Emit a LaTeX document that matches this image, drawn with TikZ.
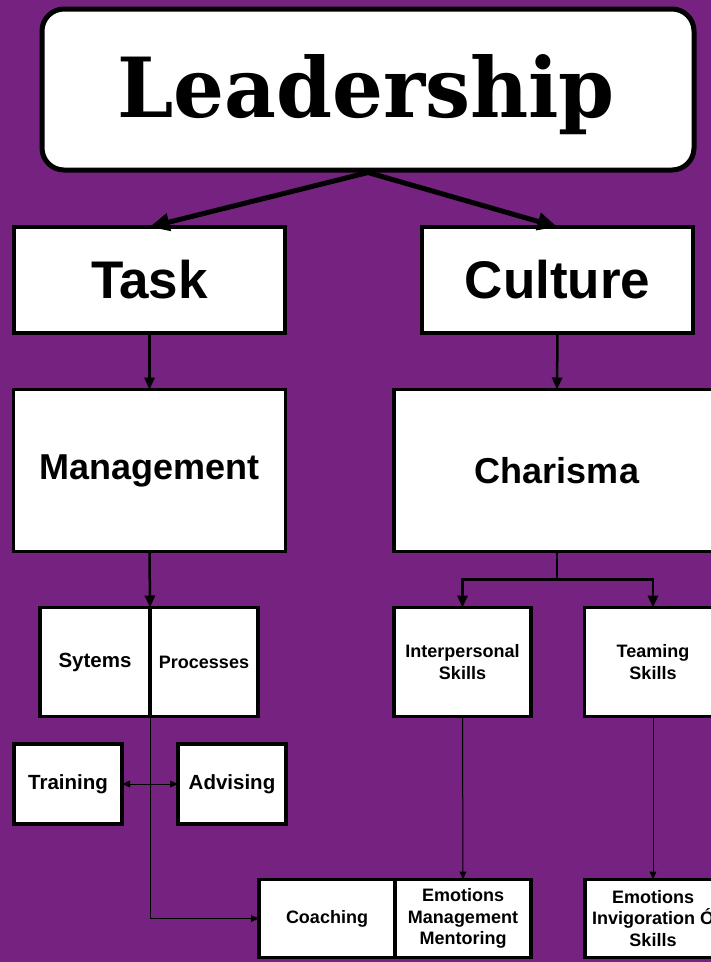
\documentclass[tikz,border=0pt]{standalone}
\usepackage{fontspec}
\setmainfont{Liberation Sans}
\newfontfamily\slabfont{DejaVu Serif}
\usepackage{graphicx}
\usetikzlibrary{arrows.meta,calc,positioning}
\definecolor{bgpurple}{RGB}{118,34,128}
\tikzset{
    box/.style args={#1/#2/#3}{draw=black, fill=white, line width=#1, inner sep=0pt, outer sep=0pt, align=center, font=\bfseries\fontsize{#2}{#3}\selectfont},
    conn/.style args={#1/#2}{draw=black, line width=#1, -{Triangle[length=#2, width=0.85*#2]}},
    biconn/.style args={#1/#2}{draw=black, line width=#1, {Triangle[length=#2, width=0.85*#2]}-{Triangle[length=#2, width=0.85*#2]}}
}

\begin{document}
\begin{tikzpicture}[x=1pt,y=-1pt]
\useasboundingbox[fill=bgpurple] (0,0) rectangle (711,962);
% top
\node[draw=black, fill=white, line width=5pt, rounded corners=22pt, minimum width=652pt, minimum height=161pt] (lead) at (368,89.5) {};
\node[anchor=base] (leadtxt) at (366,117) {\resizebox{498pt}{63pt}{\slabfont\bfseries Leadership}};
% second row
\node[box=4pt/53/60, minimum width=271pt, minimum height=106pt] (task) at (149.5,280) {Task};
\node[box=4pt/53/60, minimum width=271pt, minimum height=106pt] (culture) at (557.5,280) {Culture};
% third row
\node[box=3.5pt/36/42, minimum width=272pt, minimum height=162pt] (mgmt) at (149.5,470.5) {Management};
\node[box=3.5pt/36/42, minimum width=326pt, minimum height=162pt] (charisma) at (557,470.5) {Charisma};
% fourth row
\node[box=3.5pt/20.5/24, minimum width=110pt, minimum height=109pt] (sys) at (95,662) {Sytems};
\node[box=3.5pt/18/21.5, minimum width=108pt, minimum height=109pt, right=0pt of sys] (proc) {Processes};
\node[box=3.5pt/18/21.5, minimum width=137pt, minimum height=109pt] (interp) at (462.5,662) {Interpersonal\\Skills};
\node[box=3.5pt/18/21.5, minimum width=137pt, minimum height=109pt] (teaming) at (653,662) {Teaming\\Skills};
% fifth row
\node[box=3.5pt/20.5/24, minimum width=108pt, minimum height=80pt] (training) at (68,784) {Training};
\node[box=3.5pt/20.5/24, minimum width=108pt, minimum height=80pt] (advising) at (232,784) {Advising};
% bottom row
\node[box=3.5pt/18/21.5, minimum width=136pt, minimum height=78pt] (coaching) at (327,918.5) {Coaching};
\node[box=3.5pt/18/21.5, minimum width=136pt, minimum height=78pt, right=0pt of coaching] (emm) {Emotions\\Management\\Mentoring};
\node[box=3.5pt/18/21.5, minimum width=136pt, minimum height=78pt] (eis) at (653,918.5) {Emotions\\Invigoration \'O\\Skills};
% connectors
\draw[conn=5pt/20pt] (lead.south) -- (task.north);
\draw[conn=5pt/20pt] (lead.south) -- (culture.north);
\draw[conn=2.5pt/12pt] (task.south) -- (mgmt.north);
\draw[conn=2.5pt/12pt] (culture.south) -- (charisma.north);
\draw[conn=2.5pt/12pt] (mgmt.south) -- (sys.north east);
\draw[conn=2.5pt/12pt] (charisma.south) -- ++(0,28) -| (interp.north);
\draw[conn=2.5pt/12pt] (charisma.south) -- ++(0,28) -| (teaming.north);
\draw[conn=1pt/8pt] (sys.south east) |- (coaching.west);
\draw[biconn=1pt/8pt] (training.east) -- (advising.west);
\draw[conn=1pt/8pt] (interp.south) -- (emm.north);
\draw[conn=1pt/8pt] (teaming.south) -- (eis.north);
\end{tikzpicture}
\end{document}
